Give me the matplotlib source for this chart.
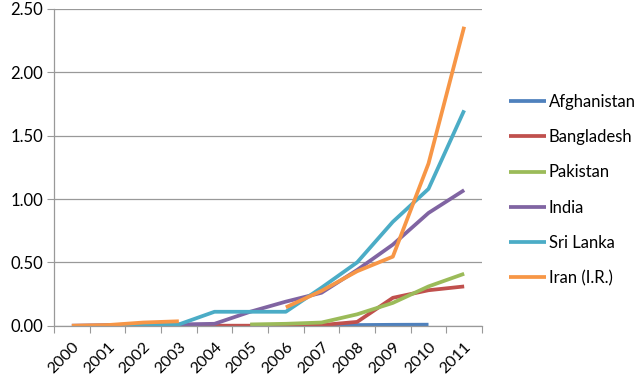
import matplotlib
matplotlib.use("Agg")
import matplotlib.pyplot as plt
import numpy as np

years = ["2000", "2001", "2002", "2003", "2004", "2005", "2006",
         "2007", "2008", "2009", "2010", "2011"]
nan = np.nan
afghanistan = [nan, nan, nan, nan, nan, 0.002, 0.003, 0.004, 0.005, 0.007, 0.008, nan]
bangladesh = [nan, nan, nan, 0.0, 0.0, 0.0, 0.0, 0.005, 0.03, 0.22, 0.28, 0.31]
pakistan = [nan, nan, nan, nan, nan, 0.01, 0.015, 0.025, 0.09, 0.18, 0.31, 0.41]
india = [0.0, 0.005, 0.01, 0.01, 0.015, 0.11, 0.19, 0.26, 0.44, 0.64, 0.89, 1.07]
sri_lanka = [nan, 0.0, 0.0, 0.01, 0.11, 0.11, 0.11, 0.30, 0.50, 0.82, 1.08, 1.70]
iran = [0.0, 0.005, 0.025, 0.035, nan, nan, 0.145, 0.275, 0.43, 0.545, 1.28, 2.36]

series = [
    ("Afghanistan", afghanistan, "#4F81BD"),
    ("Bangladesh", bangladesh, "#C0504D"),
    ("Pakistan", pakistan, "#9BBB59"),
    ("India", india, "#8064A2"),
    ("Sri Lanka", sri_lanka, "#4BACC6"),
    ("Iran (I.R.)", iran, "#F79646"),
]

plt.rcParams['font.family'] = ['Lato', 'DejaVu Sans']

fig = plt.figure(figsize=(6.4, 3.82), dpi=100)
ax = fig.add_axes([54/640, 1-325.7/382, (482-54)/640, (325.7-9)/382])

x = np.arange(len(years))
for name, vals, col in series:
    ax.plot(x, vals, color=col, lw=2.7, label=name, solid_capstyle='butt')

ax.set_xlim(-0.5, len(years) - 0.5)
ax.set_ylim(0, 2.5)
ax.set_yticks(np.arange(0, 2.51, 0.5))
ax.set_yticklabels([f"{v:.2f}" for v in np.arange(0, 2.51, 0.5)], fontsize=12)
ax.grid(axis='y', color='#999999', lw=0.9)
ax.set_axisbelow(True)

ax.set_xticks(np.arange(-0.5, len(years), 1.0))
ax.set_xticklabels([])
ax.set_xticks(x, minor=True)
ax.set_xticklabels(years, minor=True, rotation=45, ha='right',
                   rotation_mode='anchor', fontsize=11.5)
ax.tick_params(axis='x', which='minor', length=0, pad=10)
ax.tick_params(axis='x', which='major', length=5, color='#999999')
ax.tick_params(axis='y', length=5, color='#999999', pad=3)

for s in ['top', 'right']:
    ax.spines[s].set_visible(False)
for s in ['left', 'bottom']:
    ax.spines[s].set_color('#999999')
    ax.spines[s].set_linewidth(0.9)

leg = fig.legend(loc='center left', bbox_to_anchor=(509/640, 1-190/382),
                 frameon=False, fontsize=12, handlelength=2.2,
                 handletextpad=0.2, labelspacing=1.15,
                 borderaxespad=0, borderpad=0)

fig.savefig("out.png", dpi=100)
